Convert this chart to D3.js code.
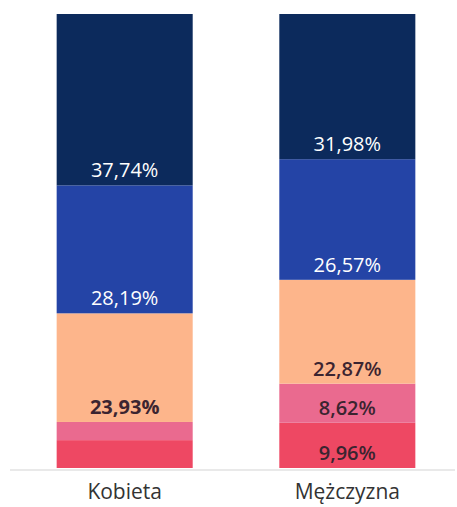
<!DOCTYPE html>
<html>
<head>
<meta charset="utf-8">
<script src="https://cdn.jsdelivr.net/npm/d3@7"></script>
<style>
  html, body { margin: 0; padding: 0; background: #fff; }
  svg { display: block; }
</style>
</head>
<body>
<svg id="chart" width="457" height="507"></svg>
<script>
// Categories (bars) and stacked segments, bottom to top
const categories = ["Kobieta", "Mężczyzna"];
const segments = ["s5", "s4", "s3", "s2", "s1"];
// Share of each segment per category (%), bottom to top
const kobietaValues = [6.14, 4.00, 23.93, 28.19, 37.74];
const mezczyznaValues = [9.96, 8.62, 22.87, 26.57, 31.98];
// Labels shown on segments (null = no label)
const kobietaLabels = [null, null, "23,93%", "28,19%", "37,74%"];
const mezczyznaLabels = ["9,96%", "8,62%", "22,87%", "26,57%", "31,98%"];

const segmentColors = ["#ee4863", "#ea6a8f", "#fdb58b", "#2444a6", "#0c2a5c"];
const labelColors = ["#3b2430", "#3b2430", "#3b2430", "#ffffff", "#ffffff"];

const svg = d3.select("#chart");

const x = d3.scaleBand()
  .domain(categories)
  .range([1, 471])
  .paddingInner(0.389)
  .paddingOuter(0.25);

const y = d3.scaleLinear().domain([0, 100]).range([468, 14]);

const rows = [
  { cat: categories[0], values: kobietaValues, labels: kobietaLabels },
  { cat: categories[1], values: mezczyznaValues, labels: mezczyznaLabels }
];

// Build stacked rows
const table = rows.map(r => {
  const o = { cat: r.cat };
  segments.forEach((s, i) => { o[s] = r.values[i]; });
  return o;
});
const stacked = d3.stack().keys(segments)(table);

// Baseline
svg.append("line")
  .attr("x1", 10).attr("x2", 455)
  .attr("y1", y(0) + 2).attr("y2", y(0) + 2)
  .attr("stroke", "#e2e2e2").attr("stroke-width", 1.5);

const layers = svg.selectAll("g.layer")
  .data(stacked)
  .join("g")
  .attr("class", "layer")
  .attr("fill", (d, i) => segmentColors[i]);

layers.selectAll("rect")
  .data(d => d)
  .join("rect")
  .attr("x", d => x(d.data.cat))
  .attr("width", x.bandwidth())
  .attr("y", d => y(d[1]))
  .attr("height", d => y(d[0]) - y(d[1]));

// Segment labels near the lower edge of each segment
stacked.forEach((layer, si) => {
  layer.forEach((d, ci) => {
    const label = rows[ci].labels[si];
    if (!label) return;
    svg.append("text")
      .attr("x", x(d.data.cat) + x.bandwidth() / 2)
      .attr("y", y(d[0]) - 8)
      .attr("text-anchor", "middle")
      .attr("font-family", "'Open Sans', sans-serif")
      .attr("font-size", 20)
      .attr("font-weight", label === "23,93%" ? 700 : (si < 3 ? 600 : 400))
      .attr("fill", labelColors[si])
      .text(label);
  });
});

// Category axis
const xAxis = svg.append("g")
  .attr("transform", `translate(0, ${y(0) + 2})`)
  .call(d3.axisBottom(x).tickSize(0).tickPadding(14));
xAxis.select(".domain").remove();
xAxis.selectAll("text")
  .attr("font-family", "'Open Sans', sans-serif")
  .attr("font-size", 21)
  .attr("fill", "#333");
</script>
</body>
</html>
